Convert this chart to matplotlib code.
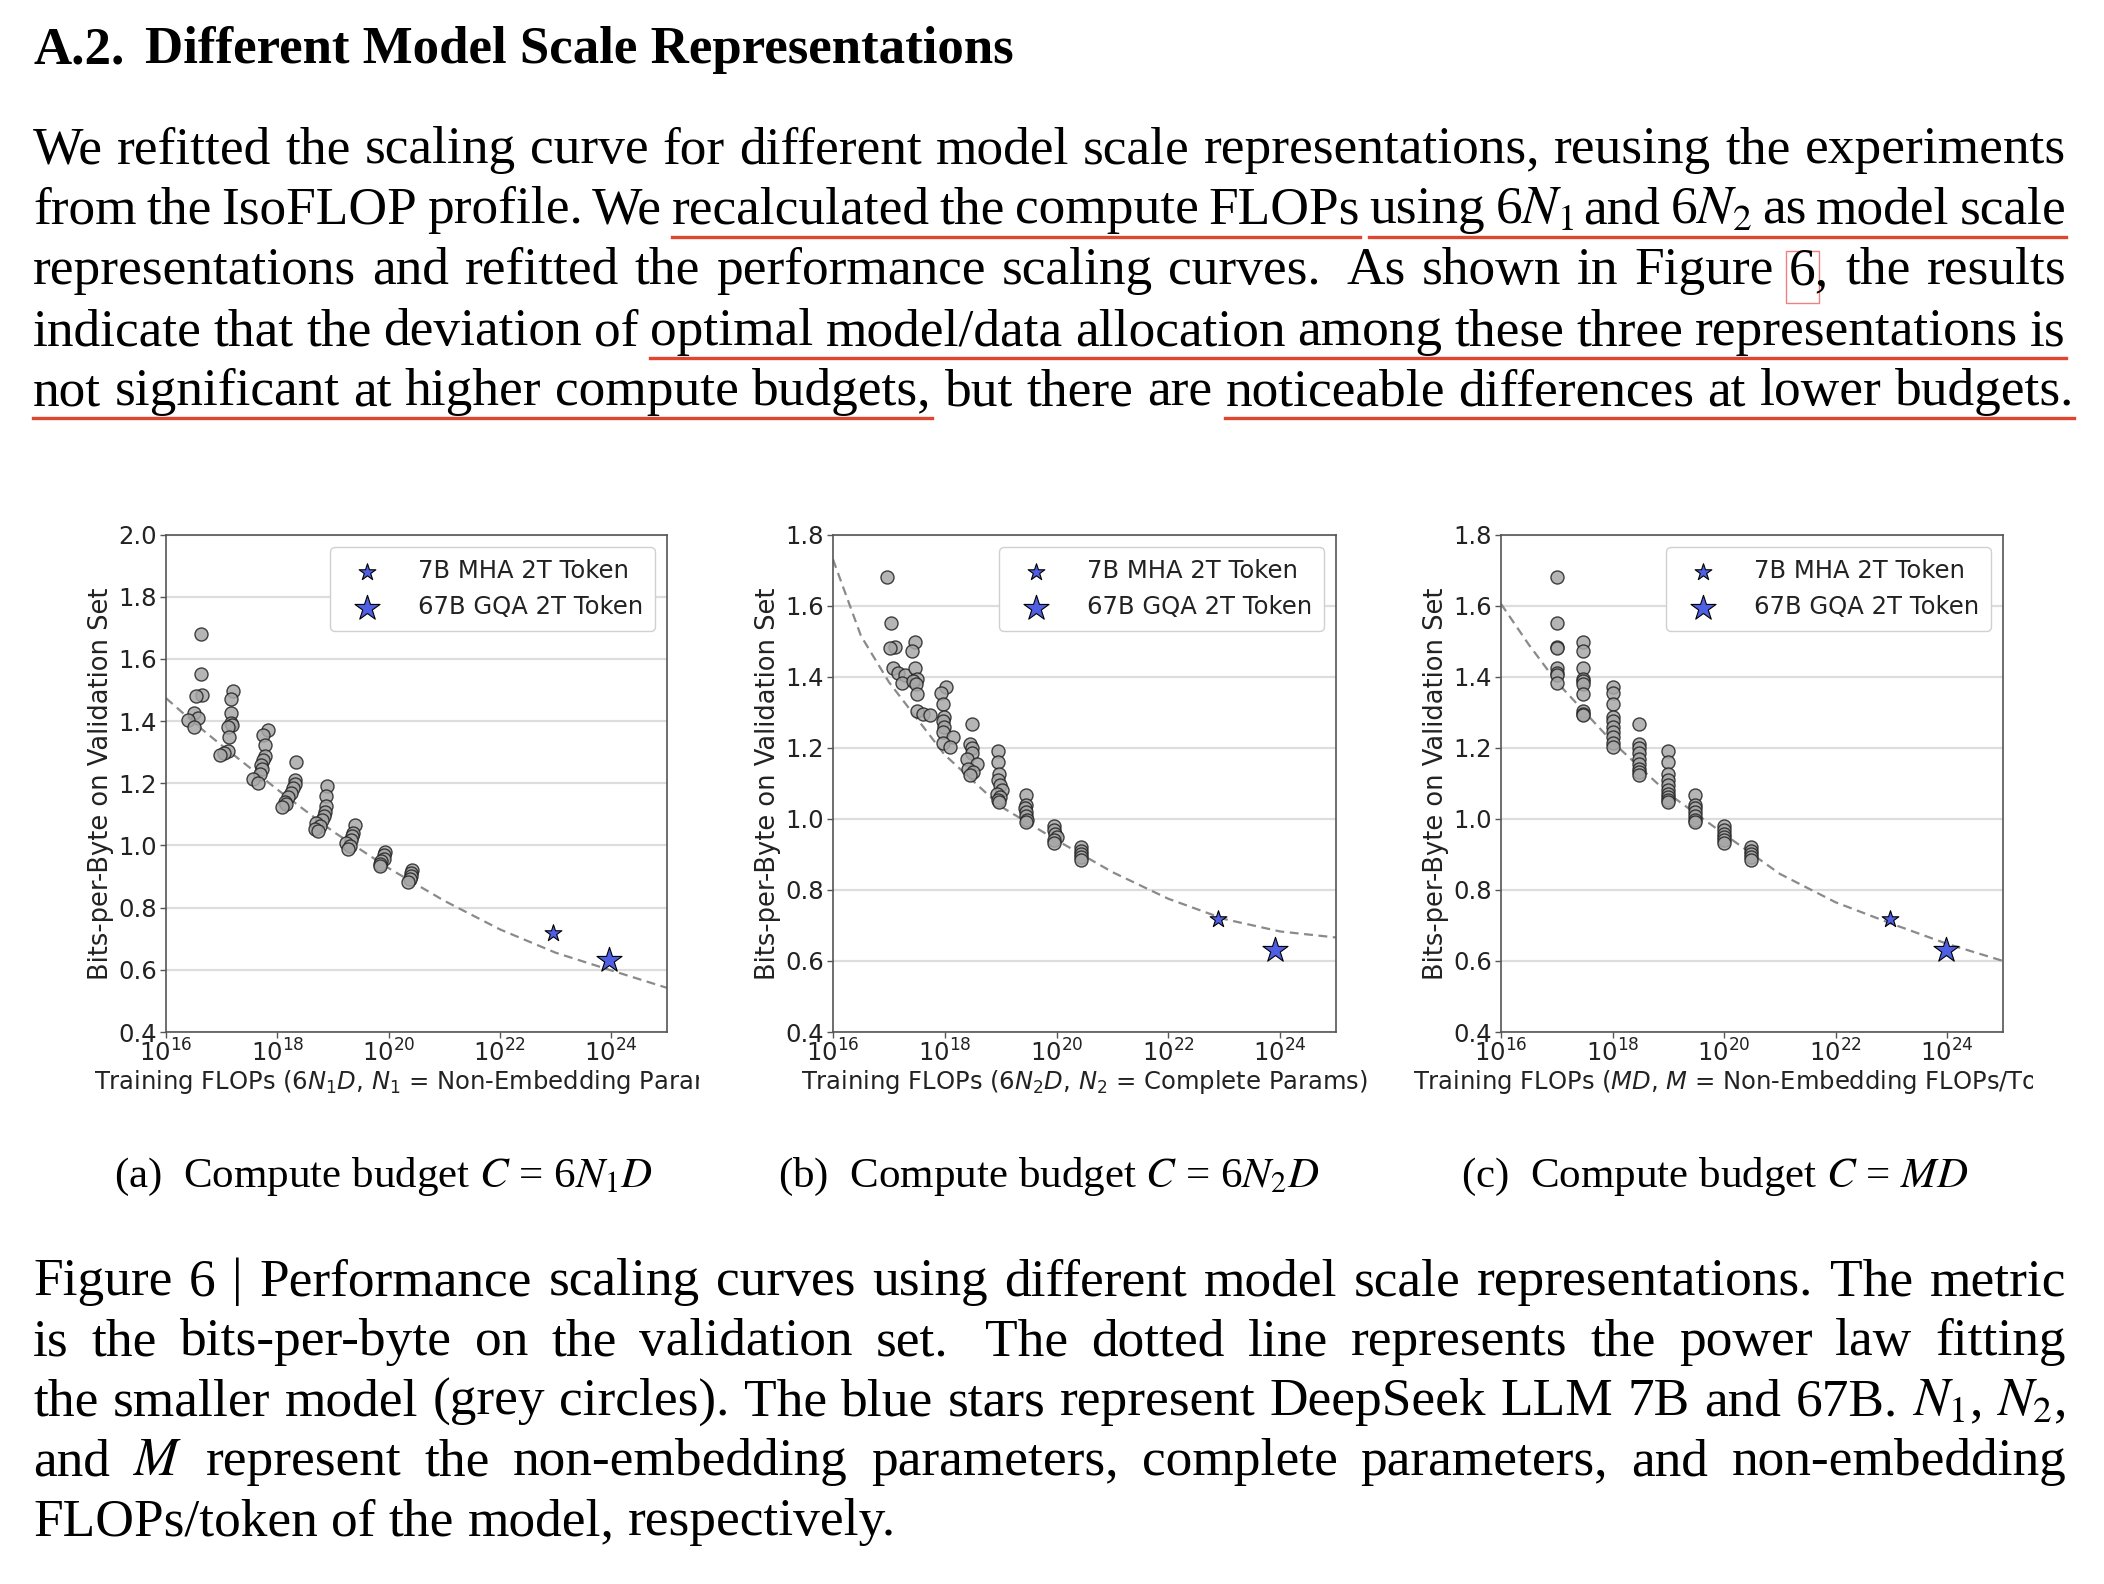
import matplotlib
matplotlib.use('Agg')
import matplotlib.pyplot as plt
from matplotlib.lines import Line2D
from matplotlib.patches import Rectangle
from matplotlib.ticker import NullLocator
from matplotlib.transforms import Bbox, TransformedBbox

W, H = 2104, 1584
SERIF = 'Liberation Serif'
RED = '#e0452f'
STAR = '#4f5fe3'
CFONT = 17.5   # chart text size

### Data ###
# compute budgets of the IsoFLOP runs (panel c sits exactly on them)
budgets = [1e17, 3e17, 1e18, 3e18, 1e19, 3e19, 1e20, 3e20]

# bits-per-byte of every run, one list per budget
bpb = [
    [1.680, 1.551, 1.485, 1.480, 1.425, 1.410, 1.405, 1.382],
    [1.497, 1.472, 1.425, 1.394, 1.388, 1.380, 1.350, 1.303, 1.296, 1.291],
    [1.371, 1.354, 1.322, 1.288, 1.275, 1.258, 1.245, 1.230, 1.213, 1.202],
    [1.268, 1.212, 1.199, 1.184, 1.168, 1.155, 1.141, 1.132, 1.123],
    [1.191, 1.160, 1.127, 1.109, 1.095, 1.081, 1.071, 1.062, 1.052, 1.046],
    [1.067, 1.040, 1.030, 1.018, 1.008, 0.998, 0.990],
    [0.980, 0.968, 0.958, 0.949, 0.940, 0.933],
    [0.921, 0.910, 0.901, 0.892, 0.884],
]

# log10 FLOPs of the same runs with 6*N1*D (panel a)
logx_a = [
    [16.63, 16.63, 16.64, 16.54, 16.51, 16.57, 16.39, 16.51],
    [17.21, 17.16, 17.17, 17.16, 17.19, 17.11, 17.13, 17.12, 17.04, 16.97],
    [17.83, 17.74, 17.77, 17.77, 17.74, 17.71, 17.73, 17.68, 17.56, 17.65],
    [18.33, 18.31, 18.31, 18.28, 18.25, 18.19, 18.13, 18.16, 18.09],
    [18.89, 18.88, 18.88, 18.86, 18.83, 18.81, 18.70, 18.76, 18.67, 18.73],
    [19.39, 19.36, 19.35, 19.33, 19.24, 19.30, 19.27],
    [19.93, 19.92, 19.91, 19.87, 19.84, 19.85],
    [20.42, 20.41, 20.40, 20.38, 20.35],
]

# log10 FLOPs with 6*N2*D (panel b)
logx_b = [
    [16.97, 17.03, 17.11, 17.02, 17.08, 17.16, 17.28, 17.24],
    [17.46, 17.42, 17.46, 17.51, 17.43, 17.48, 17.51, 17.51, 17.61, 17.73],
    [18.02, 17.93, 17.96, 17.98, 17.96, 17.99, 17.97, 18.15, 17.97, 18.10],
    [18.48, 18.45, 18.48, 18.48, 18.39, 18.57, 18.42, 18.50, 18.45],
    [18.96, 18.96, 18.97, 18.96, 18.99, 19.02, 18.93, 18.99, 18.96, 18.97],
    [19.45, 19.45, 19.44, 19.45, 19.46, 19.47, 19.45],
    [19.95, 19.95, 19.97, 20.00, 19.95, 19.96],
    [20.43, 20.43, 20.43, 20.43, 20.43],
]

# dashed power-law fit, read at these log10 FLOPs
fit_logx = [16, 16.5, 17, 18, 19, 20, 21, 22, 23, 24, 25]
fit_a = [1.474, 1.395, 1.322, 1.180, 1.045, 0.927, 0.822, 0.730, 0.655, 0.598, 0.542]
fit_b = [1.730, 1.515, 1.385, 1.180, 1.035, 0.940, 0.850, 0.775, 0.718, 0.683, 0.666]
fit_c = [1.605, 1.490, 1.385, 1.216, 1.071, 0.957, 0.845, 0.765, 0.705, 0.648, 0.600]

# DeepSeek LLM stars, one value per panel (a, b, c)
star7_logx = [22.95, 22.88, 22.97]
star7_y = [0.718, 0.717, 0.717]
star67_logx = [23.95, 23.90, 23.98]
star67_y = [0.632, 0.631, 0.631]

ymax = [2.0, 1.8, 1.8]
xtick_pow = [16, 18, 20, 22, 24]
xlabels = ['Training FLOPs (6$N_1D$, $N_1$ = Non-Embedding Params)',
           'Training FLOPs (6$N_2D$, $N_2$ = Complete Params)',
           'Training FLOPs ($MD$, $M$ = Non-Embedding FLOPs/Token)']
subcaps = ['(a)  Compute budget $C$ = 6$N_1D$',
           '(b)  Compute budget $C$ = 6$N_2D$',
           '(c)  Compute budget $C$ = $MD$']

heading_num = 'A.2.'
heading = 'Different Model Scale Representations'
body = [
    'We refitted the scaling curve for different model scale representations, reusing the experiments',
    'from the IsoFLOP profile. We recalculated the compute FLOPs using 6$N_1$ and 6$N_2$ as model scale',
    'representations and refitted the performance scaling curves.  As shown in Figure 6, the results',
    'indicate that the deviation of optimal model/data allocation among these three representations is',
    'not significant at higher compute budgets, but there are noticeable differences at lower budgets.',
]
caption = [
    'Figure 6 | Performance scaling curves using different model scale representations. The metric',
    'is the bits-per-byte on the validation set.  The dotted line represents the power law fitting',
    'the smaller model (grey circles). The blue stars represent DeepSeek LLM 7B and 67B. $N_1$, $N_2$,',
    'and $M$ represent the non-embedding parameters, complete parameters, and non-embedding',
    'FLOPs/token of the model, respectively.',
]

### Page ###
fig = plt.figure(figsize=(W / 100, H / 100), dpi=100)
fig.patch.set_facecolor('white')
r = fig.canvas.get_renderer()
serif = dict(family=SERIF, math_fontfamily='stix')


def fpos(x, y):
    # pixel coords from the top-left corner -> figure fraction
    return x / W, 1 - y / H


def width(s, size, **kw):
    t = fig.text(0, 0, s, fontsize=size, **kw)
    w = t.get_window_extent(r).width
    t.remove()
    return w


def put_line(line, y, size, x0=33, x1=2066, justify=True, under=(), box=None):
    words, weights = [], []
    for tok in line.split(' '):
        if tok == '':
            weights[-1] += 0.6
        else:
            words.append(tok)
            weights.append(1.0)
    objs = [fig.text(0, 0, w, fontsize=size, va='baseline', color='black', **serif) for w in words]
    ws = [o.get_window_extent(r).width for o in objs]
    if justify:
        gap = (x1 - x0 - sum(ws)) / sum(weights[:-1])
    else:
        gap = width('a a', size, **serif) - width('aa', size, **serif)
    xs = []
    x = x0
    for o, w, k in zip(objs, ws, weights):
        o.set_position(fpos(x, y))
        xs.append(x)
        x += w + gap * k
    for i, j in under:
        xa, xb = xs[i], xs[j] + ws[j]
        fig.add_artist(Line2D([xa / W, xb / W], [1 - (y + 13) / H] * 2, color=RED,
                              lw=2.4, transform=fig.transFigure))
    if box is not None:
        w6 = width(words[box][0], size, **serif)
        fig.add_artist(Rectangle(fpos(xs[box] - 3, y + 19), (w6 + 6) / W, 52 / H, fill=False,
                                 ec='#f08080', lw=1.0, transform=fig.transFigure))


# sizes chosen so the natural widths match the page
body_size = 30 * 2041 / width(body[4], 30, **serif)
head_size = 30 * 868 / width(heading, 30, weight='bold', **serif)
sub_size = 30 * 539 / width(subcaps[0], 30, **serif)

fig.text(*fpos(33, 63), heading_num, fontsize=head_size, weight='bold', va='baseline', **serif)
fig.text(*fpos(145, 63), heading, fontsize=head_size, weight='bold', va='baseline', **serif)

body_y = [163, 223.5, 284, 345, 405]
put_line(body[0], body_y[0], body_size)
put_line(body[1], body_y[1], body_size, under=[(5, 8), (9, 15)])
put_line(body[2], body_y[2], body_size, box=11)
put_line(body[3], body_y[3], body_size, under=[(5, 12)])
put_line(body[4], body_y[4], body_size, justify=False, under=[(0, 5), (9, 13)])

cap_y = [1295, 1355, 1415, 1475, 1535]
for k, line in enumerate(caption):
    put_line(line, cap_y[k], body_size, justify=(k < 4))

### Charts ###
ax_left = [166, 833, 1501]
ax_right = [667, 1336, 2003]
ax_top, ax_bot = 534.6, 1032
clip_right = [699, None, 2033]
sub_cx = [384, 1049, 1715]
fits = [fit_a, fit_b, fit_c]

for k in range(3):
    x0, y0 = fpos(ax_left[k], ax_bot)
    ax = fig.add_axes([x0, y0, (ax_right[k] - ax_left[k]) / W, (ax_bot - ax_top) / H])

    for i, ys in enumerate(bpb):
        if k == 0:
            xs = [10 ** v for v in logx_a[i]]
        elif k == 1:
            xs = [10 ** v for v in logx_b[i]]
        else:
            xs = [budgets[i]] * len(ys)
        ax.scatter(xs, ys, s=88, c='#a8a8a8', edgecolors='#222222', linewidths=1.0,
                   alpha=0.85, zorder=3)

    ax.plot([10 ** v for v in fit_logx], fits[k], ls=(0, (4, 2.5)), color='#8a8a8a',
            lw=1.6, zorder=2)

    ax.scatter([10 ** star7_logx[k]], [star7_y[k]], marker='*', s=160, c=STAR,
               edgecolors='black', linewidths=0.8, zorder=4, label='7B MHA 2T Token')
    ax.scatter([10 ** star67_logx[k]], [star67_y[k]], marker='*', s=360, c=STAR,
               edgecolors='black', linewidths=0.8, zorder=4, label='67B GQA 2T Token')

    ax.set_xscale('log')
    ax.set_xlim(1e16, 1e25)
    ax.set_ylim(0.4, ymax[k])
    ax.set_xticks([10.0 ** p for p in xtick_pow])
    ax.xaxis.set_minor_locator(NullLocator())
    yt = [0.4 + 0.2 * j for j in range(int(round((ymax[k] - 0.4) / 0.2)) + 1)]
    ax.set_yticks(yt)
    ax.set_yticklabels(['%.1f' % v for v in yt])
    ax.grid(axis='y', color='#dddddd', lw=1.6, zorder=0)
    ax.set_axisbelow(True)
    for sp in ax.spines.values():
        sp.set_color('#555555')
        sp.set_linewidth(1.2)
    ax.tick_params(labelsize=CFONT, labelcolor='#222222', color='#555555', length=4, width=1,
                   pad=2.5)
    ax.tick_params(axis='x', pad=1.0)

    ax.set_ylabel('Bits-per-Byte on Validation Set', fontsize=18.5, color='#222222', labelpad=3)
    ax.set_xlabel(xlabels[k], fontsize=CFONT, color='#222222', labelpad=1)
    if clip_right[k] is not None:
        ax.xaxis.label.set_clip_box(TransformedBbox(
            Bbox.from_extents(0, 0, clip_right[k] / W, 1), fig.transFigure))
        ax.xaxis.label.set_clip_on(True)

    leg = ax.legend(loc='upper right', fontsize=CFONT, handletextpad=1.1, borderpad=0.5,
                    labelspacing=0.5, framealpha=1, edgecolor='#d0d0d0', fancybox=True)
    for t in leg.get_texts():
        t.set_color('#222222')

    fig.text(*fpos(sub_cx[k], 1187), subcaps[k], fontsize=sub_size, ha='center',
             va='baseline', **serif)

plt.savefig('out.png', dpi=100, facecolor='white')
